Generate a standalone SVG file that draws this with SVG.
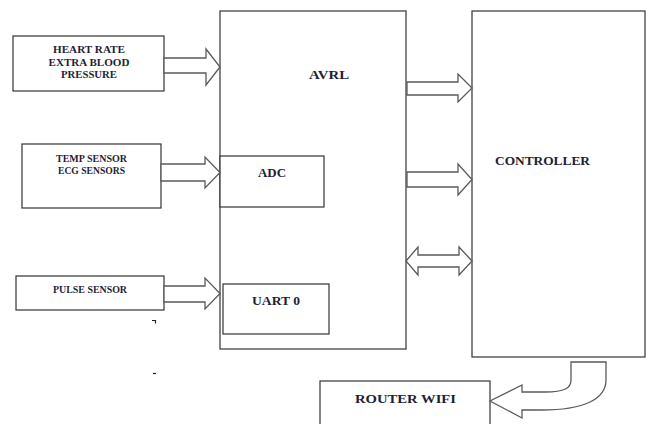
<svg xmlns="http://www.w3.org/2000/svg" width="646" height="424" viewBox="0 0 646 424">
  <style>
    .box { fill: #ffffff; stroke: #333333; stroke-width: 1.2; }
    .arrow { fill: #ffffff; stroke: #5a5a5a; stroke-width: 1.3; stroke-linejoin: miter; }
    .lbl { font-family: "Liberation Serif", "Times New Roman", serif; font-weight: bold; fill: #1e1e38; }
    .sm { font-size: 10px; text-anchor: middle; }
    .lg { font-size: 13.5px; }
    .mark { fill: none; stroke: #222222; stroke-width: 1.2; }
  </style>
  <rect width="646" height="424" fill="#ffffff"/>

  <!-- sensor inputs -->
  <g id="node-heart">
    <rect class="box" x="13" y="36" width="151" height="55"/>
    <text class="lbl sm" x="89" y="53" textLength="72" lengthAdjust="spacingAndGlyphs">HEART RATE</text>
    <text class="lbl sm" x="89" y="66" textLength="81" lengthAdjust="spacingAndGlyphs">EXTRA BLOOD</text>
    <text class="lbl sm" x="89" y="78" textLength="56" lengthAdjust="spacingAndGlyphs">PRESSURE</text>
  </g>
  <g id="node-temp">
    <rect class="box" x="22" y="144" width="139" height="64"/>
    <text class="lbl sm" x="91.5" y="162" textLength="71" lengthAdjust="spacingAndGlyphs">TEMP SENSOR</text>
    <text class="lbl sm" x="91.5" y="174" textLength="67" lengthAdjust="spacingAndGlyphs">ECG SENSORS</text>
  </g>
  <g id="node-pulse">
    <rect class="box" x="16" y="276" width="148" height="34"/>
    <text class="lbl sm" x="90" y="293" textLength="74" lengthAdjust="spacingAndGlyphs">PULSE SENSOR</text>
  </g>

  <!-- microcontroller block -->
  <g id="node-avrl">
    <rect class="box" x="220" y="11" width="186" height="338"/>
    <text class="lbl lg" x="309" y="79" textLength="40" lengthAdjust="spacingAndGlyphs">AVRL</text>
  </g>
  <g id="node-adc">
    <rect class="box" x="220" y="156" width="104" height="51"/>
    <text class="lbl lg" x="258" y="177" textLength="28" lengthAdjust="spacingAndGlyphs">ADC</text>
  </g>
  <g id="node-uart">
    <rect class="box" x="223" y="284" width="106" height="50"/>
    <text class="lbl lg" x="252" y="305" textLength="48" lengthAdjust="spacingAndGlyphs">UART 0</text>
  </g>

  <g id="node-controller">
    <rect class="box" x="472" y="11" width="173" height="346"/>
    <text class="lbl lg" x="495" y="165" textLength="95" lengthAdjust="spacingAndGlyphs">CONTROLLER</text>
  </g>

  <g id="node-router">
    <rect class="box" x="320" y="381" width="170" height="50"/>
    <text class="lbl lg" x="355" y="403" textLength="101" lengthAdjust="spacingAndGlyphs">ROUTER WIFI</text>
  </g>

  <!-- block arrows -->
  <g id="connectors">
    <path class="arrow" d="M164,58 H206 V49 L220,67 L206,85 V73 H164 Z"/>
    <path class="arrow" d="M161,164 H205 V157 L220,172.5 L205,188 V181 H161 Z"/>
    <path class="arrow" d="M164,286 H205 V278 L220,293.5 L205,309 V302 H164 Z"/>

    <path class="arrow" d="M407,82 H458 V74 L472,88 L458,102 V95 H407 Z"/>
    <path class="arrow" d="M407,172 H458 V164 L472,179.5 L458,195 V187 H407 Z"/>
    <path class="arrow" d="M406,261 L418,247 V255 H459 V247 L472,261 L459,275 V267 H418 V275 Z"/>

    <path class="arrow" d="M571,362 H606 V380 C606,400 582,410 542,410 H522 V418 L490,401 L522,385 V392 H545 C565,392 571,388 571,380 Z"/>
  </g>

  <!-- stray marks -->
  <path class="mark" d="M152,320.5 H155.5 V323.5"/>
  <path class="mark" d="M153,373.5 H156"/>
</svg>
